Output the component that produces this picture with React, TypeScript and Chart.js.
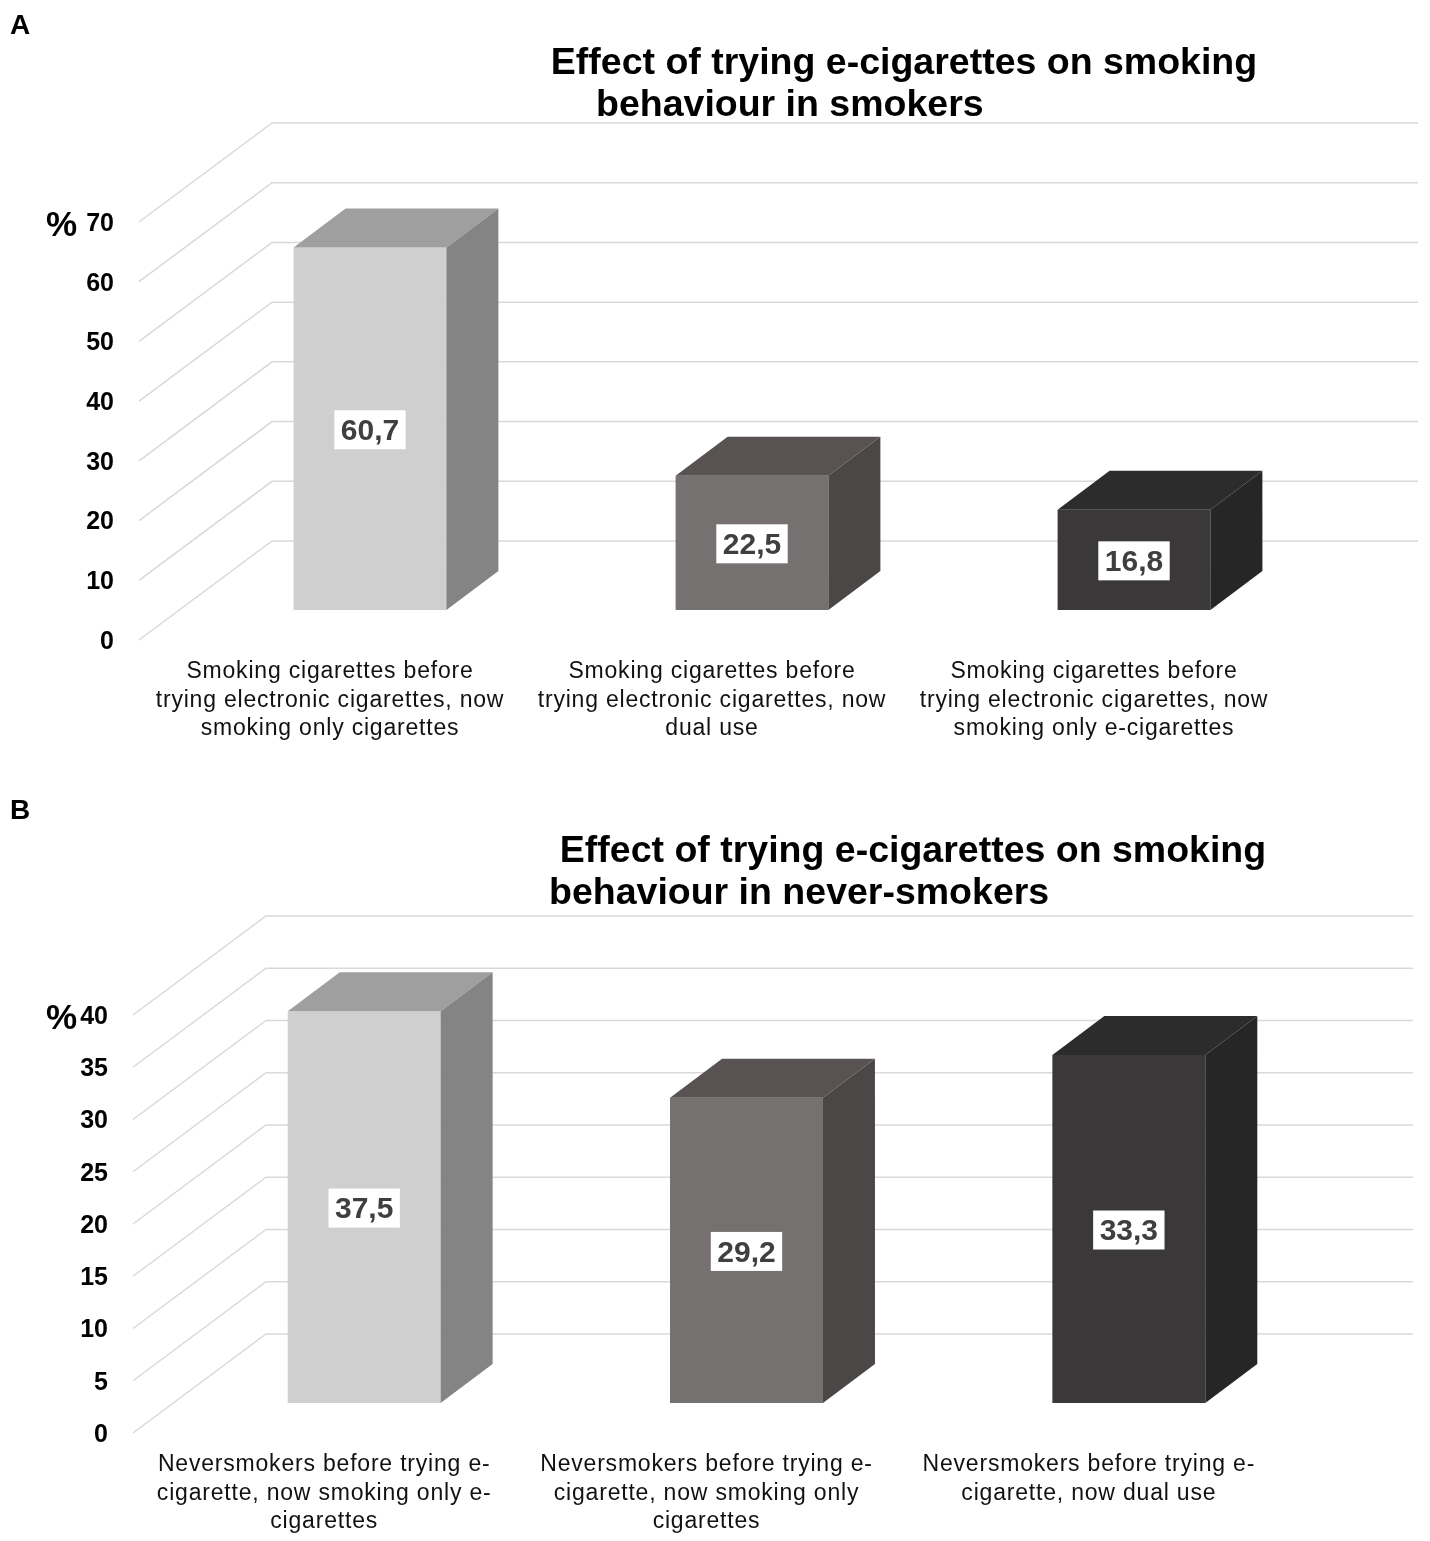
import React, { useEffect, useRef } from "react";
import { Chart, registerables } from "chart.js";

Chart.register(...registerables);

const FONT = '"Liberation Sans", Arial, Helvetica, sans-serif';

// panel A: smokers
const smokersTitle = ["Effect of trying e-cigarettes on smoking", "behaviour in smokers"];
const smokersCategories = [
  ["Smoking cigarettes before", "trying electronic cigarettes, now", "smoking only cigarettes"],
  ["Smoking cigarettes before", "trying electronic cigarettes, now", "dual use"],
  ["Smoking cigarettes before", "trying electronic cigarettes, now", "smoking only e-cigarettes"],
];
const smokersValues = [60.7, 22.5, 16.8];
const smokersMax = 70;
const smokersStep = 10;

// panel B: never-smokers
const neverTitle = ["Effect of trying e-cigarettes on smoking", "behaviour in never-smokers"];
const neverCategories = [
  ["Neversmokers before trying e-", "cigarette, now smoking only e-", "cigarettes"],
  ["Neversmokers before trying e-", "cigarette, now smoking only", "cigarettes"],
  ["Neversmokers before trying e-", "cigarette, now dual use"],
];
const neverValues = [37.5, 29.2, 33.3];
const neverMax = 40;
const neverStep = 5;

const frontColors = ["#d0cfd0", "#767171", "#3a3839"];
const sideColors = ["#858485", "#4b4746", "#272627"];
const topColors = ["#a09fa0", "#585352", "#2d2c2d"];

// 3D offsets relative to the bar front plane
const FLOOR = { dx: -40, dy: 30 };
const BACK = { dx: 93, dy: -69 };
const DEPTH = { dx: 52, dy: -39 };

interface PanelProps {
  letter: string;
  title: string[];
  titleX: number;
  titleY: number;
  title2X: number;
  categories: string[][];
  values: number[];
  yMax: number;
  yStep: number;
  width: number;
  height: number;
  padding: { left: number; right: number; top: number; bottom: number };
}

const Panel: React.FC<PanelProps> = (props) => {
  const canvasRef = useRef<HTMLCanvasElement | null>(null);
  const chartRef = useRef<Chart | null>(null);

  useEffect(() => {
    if (!canvasRef.current) return;
    const ctx = canvasRef.current.getContext("2d");
    if (!ctx) return;

    const boxPlugin = {
      id: "box3d",
      beforeDatasetsDraw(chart: any) {
        const c = chart.ctx;
        const y = chart.scales.y;
        const area = chart.chartArea;
        c.save();
        c.strokeStyle = "#d9d9d9";
        c.lineWidth = 1.5;
        y.ticks.forEach((t: any) => {
          const py = y.getPixelForValue(t.value);
          c.beginPath();
          c.moveTo(area.left + FLOOR.dx, py + FLOOR.dy);
          c.lineTo(area.left + BACK.dx, py + BACK.dy);
          c.lineTo(area.right + BACK.dx, py + BACK.dy);
          c.stroke();
        });
        c.fillStyle = "#000";
        c.font = `bold 25px ${FONT}`;
        c.textAlign = "right";
        c.textBaseline = "middle";
        y.ticks.forEach((t: any) => {
          const py = y.getPixelForValue(t.value);
          c.fillText(String(t.value), area.left + FLOOR.dx - 25, py + FLOOR.dy + 2);
        });
        const topY = y.getPixelForValue(y.max) + FLOOR.dy;
        c.font = `bold 35px ${FONT}`;
        c.textAlign = "left";
        c.fillText("%", 46, topY + 4);

        // panel letter and title
        c.font = `bold 28px ${FONT}`;
        c.fillText(props.letter, 10, 26);
        c.font = `bold 37.5px ${FONT}`;
        c.textAlign = "center";
        c.fillText(props.title[0], props.titleX, props.titleY + 2);
        c.textAlign = "left";
        c.fillText(props.title[1], props.title2X, props.titleY + 44);

        // category labels at the front edge
        const x = chart.scales.x;
        const baseY = y.getPixelForValue(0);
        c.font = `23px ${FONT}`;
        (c as any).letterSpacing = "0.8px";
        c.fillStyle = "#111";
        c.textAlign = "center";
        props.categories.forEach((lines, i) => {
          const px = x.getPixelForValue(i) + FLOOR.dx;
          lines.forEach((line, j) => {
            c.fillText(line, px, baseY + 62 + j * 28.5);
          });
        });
        c.restore();
      },
      afterDatasetsDraw(chart: any) {
        const c = chart.ctx;
        const meta = chart.getDatasetMeta(0);
        c.save();
        meta.data.forEach((bar: any, i: number) => {
          const { x, y, base, width } = bar.getProps(["x", "y", "base", "width"], true);
          const l = x - width / 2;
          const r = x + width / 2;
          c.fillStyle = topColors[i];
          c.beginPath();
          c.moveTo(l, y);
          c.lineTo(l + DEPTH.dx, y + DEPTH.dy);
          c.lineTo(r + DEPTH.dx, y + DEPTH.dy);
          c.lineTo(r, y);
          c.closePath();
          c.fill();
          c.fillStyle = sideColors[i];
          c.beginPath();
          c.moveTo(r, y);
          c.lineTo(r + DEPTH.dx, y + DEPTH.dy);
          c.lineTo(r + DEPTH.dx, base + DEPTH.dy);
          c.lineTo(r, base);
          c.closePath();
          c.fill();

          const text = props.values[i].toFixed(1).replace(".", ",");
          c.font = `bold 30px ${FONT}`;
          const tw = c.measureText(text).width;
          const cy = (y + base) / 2 + 1;
          c.fillStyle = "#fff";
          c.fillRect(x - tw / 2 - 6.5, cy - 19.5, tw + 13, 39);
          c.fillStyle = "#3f3f3f";
          c.textAlign = "center";
          c.textBaseline = "middle";
          c.fillText(text, x, cy + 2);
        });
        c.restore();
      },
    };

    chartRef.current = new Chart(ctx, {
      type: "bar",
      data: {
        labels: props.categories.map((l) => l.join(" ")),
        datasets: [
          {
            data: props.values,
            backgroundColor: frontColors,
            borderWidth: 0,
            barPercentage: 0.4,
            categoryPercentage: 1.0,
          },
        ],
      },
      options: {
        animation: false,
        responsive: false,
        layout: { padding: props.padding },
        scales: {
          x: { display: false },
          y: {
            display: false,
            min: 0,
            max: props.yMax,
            ticks: { stepSize: props.yStep },
          },
        },
        plugins: {
          legend: { display: false },
          tooltip: { enabled: false },
        },
      },
      plugins: [boxPlugin],
    });

    return () => {
      if (chartRef.current) {
        chartRef.current.destroy();
        chartRef.current = null;
      }
    };
  }, []);

  return (
    <canvas
      ref={canvasRef}
      width={props.width}
      height={props.height}
      style={{ display: "block", width: props.width, height: props.height }}
    ></canvas>
  );
};

const App: React.FC = () => {
  useEffect(() => {
    document.body.style.margin = "0";
    document.body.style.background = "#fff";
  }, []);

  return (
    <div style={{ width: 1430, background: "#fff" }}>
      <Panel
        letter="A"
        title={smokersTitle}
        titleX={904}
        titleY={62}
        title2X={596}
        categories={smokersCategories}
        values={smokersValues}
        yMax={smokersMax}
        yStep={smokersStep}
        width={1430}
        height={785}
        padding={{ left: 179, right: 105, top: 192, bottom: 175 }}
      />
      <Panel
        letter="B"
        title={neverTitle}
        titleX={913}
        titleY={65}
        title2X={549}
        categories={neverCategories}
        values={neverValues}
        yMax={neverMax}
        yStep={neverStep}
        width={1430}
        height={756}
        padding={{ left: 173, right: 110, top: 200, bottom: 138 }}
      />
    </div>
  );
};

export default App;
